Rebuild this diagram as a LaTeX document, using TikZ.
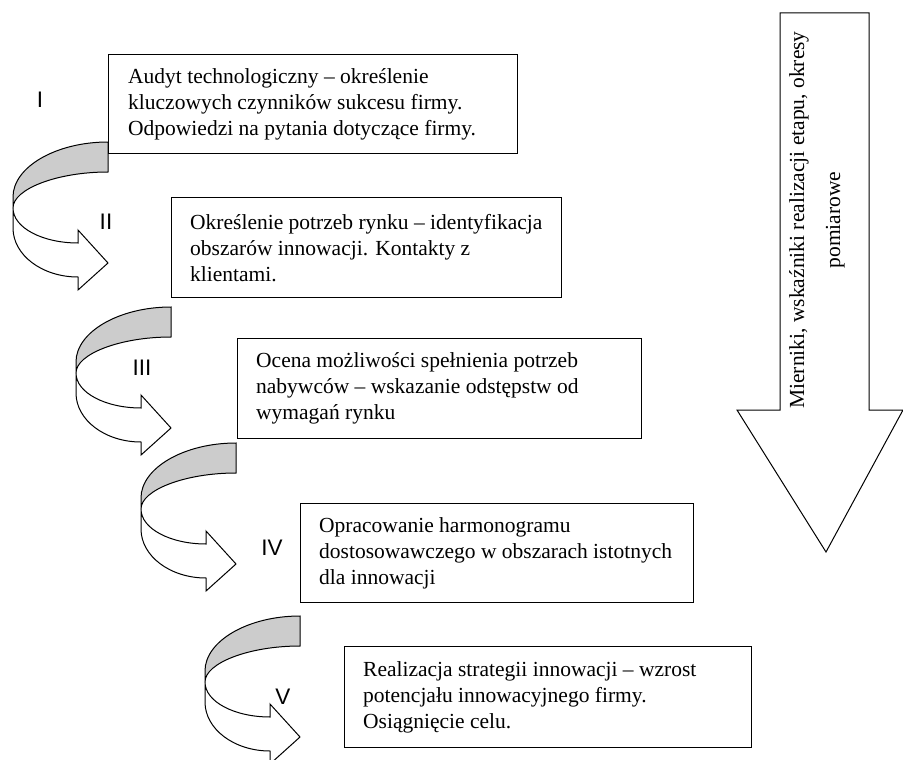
\documentclass[tikz,border=0pt]{standalone}
\usepackage{fontspec}
\setmainfont{Liberation Serif}
\newfontfamily\labfont{Liberation Sans}
\definecolor{backgray}{gray}{0.8}
\begin{document}
\begin{tikzpicture}[x=1pt,y=-1pt,
  stagebox/.style={draw, line width=1.2pt, anchor=north west, inner sep=0pt},
  stagetext/.style={anchor=west, align=left, inner sep=0pt, font=\fontsize{21.5}{26}\selectfont},
  roman/.style={font=\labfont\fontsize{22.5}{22.5}\selectfont},
  band/.style={line width=1pt, line join=miter},
  curv/.pic={
    \fill[backgray] (0,0) .. controls (-52,0) and (-95,25) .. (-95,55) -- (-95,66) .. controls (-95,47) and (-51,30) .. (0,30) -- cycle;
    \fill[white] (-95,66) .. controls (-95,86) and (-65,101) .. (-30,101) -- (-30,88) -- (0,121) -- (-30,148) -- (-30,135) .. controls (-66,135) and (-95,113) .. (-95,86) -- cycle;
    \draw[band] (0,0) .. controls (-52,0) and (-95,25) .. (-95,55) -- (-95,86) .. controls (-95,113) and (-66,135) .. (-30,135) -- (-30,148) -- (0,121) -- (-30,88) -- (-30,101) .. controls (-65,101) and (-95,86) .. (-95,66) .. controls (-95,47) and (-51,30) .. (0,30) -- cycle;
  }]
\useasboundingbox (0,0) rectangle (903,760);

% curved arrows
\pic at (108,142) {curv};
\pic at (171,307) {curv};
\pic at (236,443) {curv};
\pic at (300,616) {curv};

% boxes
\node[stagebox, minimum width=409pt, minimum height=99pt] (b1) at (108,54) {};
\node[stagetext] (t1) at ([xshift=20pt]b1.west) {Audyt technologiczny – określenie\\kluczowych czynników sukcesu firmy.\\Odpowiedzi na pytania dotyczące firmy.};

\node[stagebox, minimum width=390pt, minimum height=100pt] (b2) at (171,197) {};
\node[stagetext] (t2) at ([xshift=19pt]b2.west) {Określenie potrzeb rynku – identyfikacja\\obszarów innowacji. Kontakty z\\klientami.};

\node[stagebox, minimum width=404pt, minimum height=100pt] (b3) at (237,338) {};
\node[stagetext] (t3) at ([xshift=19pt]b3.west) {Ocena możliwości spełnienia potrzeb\\nabywców – wskazanie odstępstw od\\wymagań rynku};

\node[stagebox, minimum width=393pt, minimum height=99pt] (b4) at (300,503) {};
\node[stagetext] (t4) at ([xshift=19pt]b4.west) {Opracowanie harmonogramu\\dostosowawczego w obszarach istotnych\\dla innowacji};

\node[stagebox, minimum width=407pt, minimum height=101pt] (b5) at (344,646) {};
\node[stagetext] (t5) at ([xshift=19pt]b5.west) {Realizacja strategii innowacji – wzrost\\potencjału innowacyjnego firmy.\\Osiągnięcie celu.};

% roman labels
\node[roman] (l1) at (40,100) {I};
\node[roman] (l2) at (106,222) {II};
\node[roman] (l3) at (142,368) {III};
\node[roman] (l4) at (272,548) {IV};
\node[roman] (l5) at (283,697) {V};

% big down arrow
\draw[band] (780,13) -- (869,13) -- (869,410) -- (903,410) -- (826,552) -- (737,410) -- (780,410) -- cycle;
\node[rotate=90, align=center, inner sep=0pt, font=\fontsize{21.5}{36}\selectfont] (m) at (817,220) {Mierniki, wskaźniki realizacji etapu, okresy\\pomiarowe};
\end{tikzpicture}
\end{document}
